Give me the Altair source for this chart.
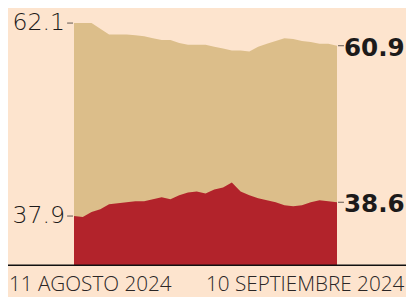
import altair as alt
import pandas as pd

# Daily series, 11 Aug 2024 -> 10 Sep 2024
days = list(range(31))
tan_values = [62.1, 62.1, 62.1, 61.8, 61.5, 61.5, 61.5, 61.45, 61.4, 61.3,
              61.2, 61.2, 61.05, 60.95, 60.95, 60.95, 60.85, 60.75, 60.65, 60.65,
              60.6, 60.85, 61.0, 61.15, 61.3, 61.25, 61.15, 61.1, 61.0, 61.0, 60.9]
red_values = [37.9, 37.85, 38.1, 38.25, 38.5, 38.55, 38.6, 38.65, 38.65, 38.75,
              38.85, 38.75, 38.95, 39.1, 39.15, 39.05, 39.25, 39.35, 39.6, 39.15,
              38.95, 38.8, 38.7, 38.6, 38.45, 38.4, 38.45, 38.6, 38.7, 38.65, 38.6]
x_labels = ["11 AGOSTO 2024", "10 SEPTIEMBRE 2024"]
x_label_days = [0, 30]

BG = "#fde4ce"
TAN = "#dcbe8a"
RED = "#b2232b"
INK = "#1c1a1a"
NUM_FONT = "DejaVu Sans"
X_FONT = "Open Sans"

W, H = 267, 257

df = pd.DataFrame({"day": days, "tan": tan_values, "red": red_values})
first = df.iloc[[0]]
last = df.iloc[[-1]]
xl_first = pd.DataFrame({"day": [x_label_days[0]], "label": [x_labels[0]]})
xl_last = pd.DataFrame({"day": [x_label_days[1]], "label": [x_labels[1]]})

xs = alt.Scale(domain=[0, 30], nice=False, zero=False)
X = alt.X("day:Q", scale=xs, axis=None)


def series_layer(field, color, domain):
    ys = alt.Scale(domain=domain, zero=False, nice=False)
    Y = alt.Y(f"{field}:Q", scale=ys, axis=None)
    area = alt.Chart(df).mark_area(color=color, clip=True).encode(x=X, y=Y)
    tick_l = alt.Chart(first).mark_tick(orient="horizontal", size=6, thickness=1,
                                        xOffset=-4, color=INK).encode(x=X, y=Y)
    tick_r = alt.Chart(last).mark_tick(orient="horizontal", size=6, thickness=1,
                                       xOffset=4, color=INK).encode(x=X, y=Y)
    lbl_l = alt.Chart(first).mark_text(align="right", baseline="middle", dx=-9,
                                       font=NUM_FONT, fontWeight=200, fontSize=24,
                                       color=INK).encode(
        x=X, y=Y, text=alt.Text(f"{field}:Q", format=".1f"))
    lbl_r = alt.Chart(last).mark_text(align="left", baseline="middle", dx=7, dy=2,
                                      font=NUM_FONT, fontWeight="bold", fontSize=25,
                                      color=INK).encode(
        x=X, y=Y, text=alt.Text(f"{field}:Q", format=".1f"))
    return alt.layer(area, tick_l, tick_r, lbl_l, lbl_r)


tan_layer = series_layer("tan", TAN, [49.27, 62.68])
red_layer = series_layer("red", RED, [35.4, 48.25])

axis_line = alt.Chart(xl_first).mark_rule(color="#111111", strokeWidth=1.5).encode(
    x=alt.value(-67), x2=alt.value(W + 75), y=alt.value(H))

x_text_l = alt.Chart(xl_first).mark_text(
    align="left", baseline="middle", font=X_FONT, fontWeight=300, fontSize=21,
    color="#2a2626", dx=-66, dy=20
).encode(x=X, y=alt.value(H), text="label:N")

x_text_r = alt.Chart(xl_last).mark_text(
    align="left", baseline="middle", font=X_FONT, fontWeight=300, fontSize=21,
    color="#2a2626", dx=-133, dy=20
).encode(x=X, y=alt.value(H), text="label:N")

chart = alt.layer(tan_layer, red_layer, axis_line, x_text_l, x_text_r).resolve_scale(
    y="independent"
).properties(
    width=W, height=H, background=BG, autosize="none",
    padding={"left": 67, "top": 2, "right": 70, "bottom": 30},
).configure_view(stroke=None)

chart.save("out.html", embed_options={"renderer": "svg", "actions": False})
